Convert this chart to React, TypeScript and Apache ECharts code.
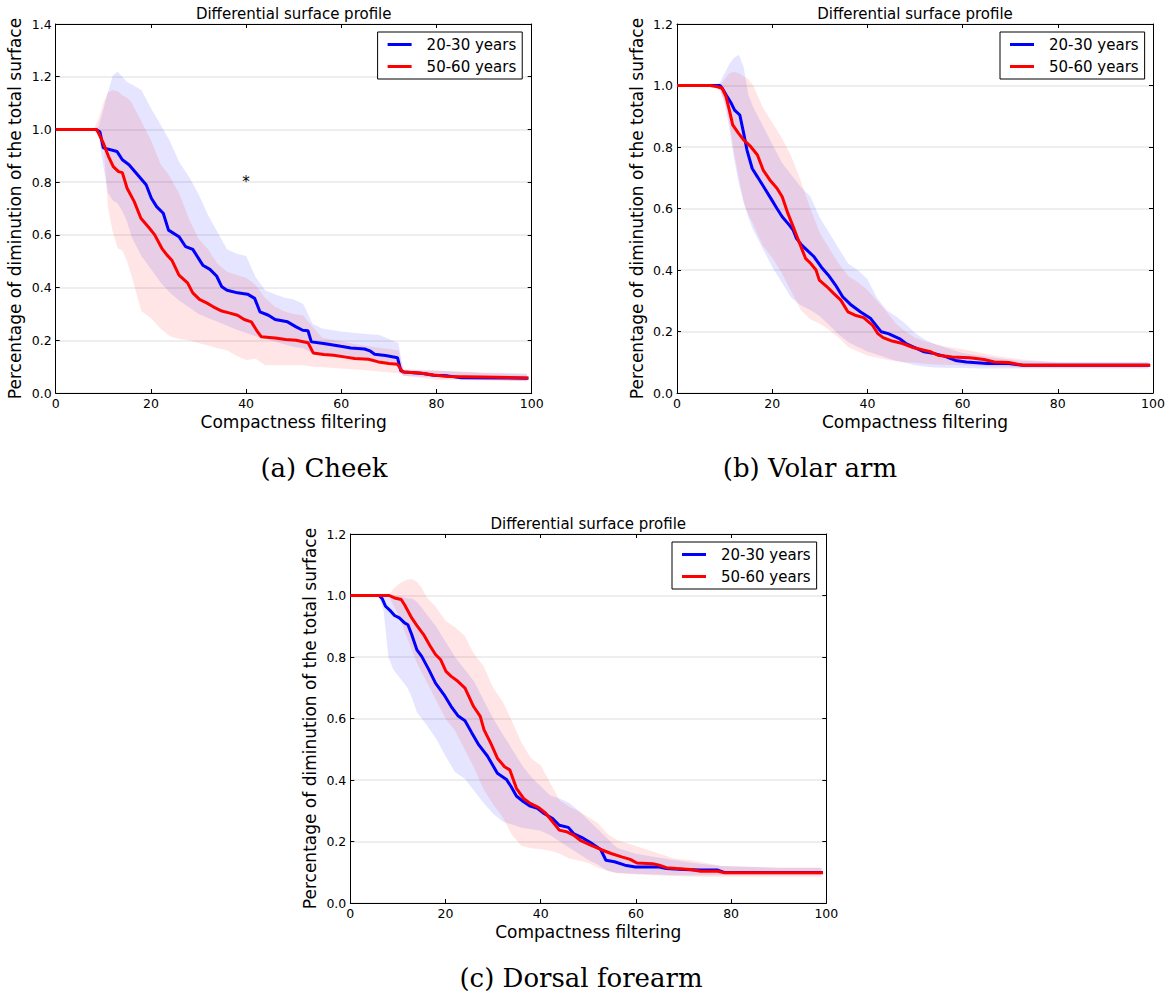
import React, { useEffect, useRef } from 'react';
import * as echarts from 'echarts';

// ---------- labels ----------
const ageGroups = ['20-30 years', '50-60 years'];
const panelTitle = 'Differential surface profile';
const xAxisTitle = 'Compactness filtering';
const yAxisTitle = 'Percentage of diminution of the total surface';
const captions = ['(a) Cheek', '(b) Volar arm', '(c) Dorsal forearm'];
const yMaxes = [1.4, 1.2, 1.2];
const starPoint = [40, 0.8];

// ---------- (a) Cheek ----------
const cheekYoungX = [0, 8.5, 9.3, 10, 12.9, 14, 15.4, 17.2, 19, 20.1, 21.2, 22.6, 23.7, 25.9, 27.3, 28.8, 30.9, 32.4, 33.8, 34.9, 36, 38.2, 40.3, 41.8, 42.9, 44.7, 46.1, 48.7, 50.5, 51.9, 53, 53.7, 56.3, 59.9, 62, 64.9, 66, 67, 69.3, 71.8, 72.5, 73.2, 77.2, 79.4, 82.3, 85.2, 99.3];
const cheekYoungY = [1, 1, 0.99, 0.93, 0.916, 0.885, 0.866, 0.828, 0.79, 0.739, 0.707, 0.682, 0.618, 0.593, 0.555, 0.545, 0.485, 0.469, 0.444, 0.403, 0.39, 0.38, 0.375, 0.359, 0.308, 0.295, 0.279, 0.27, 0.251, 0.238, 0.236, 0.194, 0.188, 0.177, 0.171, 0.167, 0.16, 0.147, 0.142, 0.134, 0.084, 0.08, 0.074, 0.067, 0.065, 0.058, 0.056];
const cheekOldX = [0, 8.5, 8.9, 10, 11.1, 12.1, 13.2, 14, 15, 16.5, 17.9, 19.7, 20.8, 22.3, 23.4, 24.4, 25.9, 27.7, 28.8, 30.2, 31.7, 33.1, 34.9, 36.4, 38.2, 39.6, 41.1, 42.2, 43.2, 46.1, 48.3, 50.5, 53, 54.1, 56.3, 58.4, 60.6, 62.8, 65.7, 67.8, 70, 71.8, 72.9, 76.5, 79.4, 82.3, 89.5, 99.3];
const cheekOldY = [1, 1, 0.99, 0.948, 0.897, 0.859, 0.84, 0.836, 0.777, 0.726, 0.663, 0.625, 0.6, 0.549, 0.523, 0.504, 0.447, 0.418, 0.38, 0.355, 0.342, 0.327, 0.311, 0.304, 0.295, 0.279, 0.27, 0.238, 0.213, 0.209, 0.203, 0.2, 0.191, 0.152, 0.146, 0.143, 0.137, 0.131, 0.128, 0.118, 0.112, 0.109, 0.08, 0.076, 0.068, 0.063, 0.061, 0.057];
const cheekBandX = [0, 8, 9, 10, 11, 12, 13, 14, 15, 16, 18, 20, 22, 24, 26, 28, 30, 32, 34, 36, 38, 40, 42, 44, 46, 48, 50, 52, 54, 56, 60, 64, 68, 72, 73, 80, 90, 99];
const cheekYoungUpper = [1, 1, 1.01, 1.075, 1.145, 1.205, 1.22, 1.2, 1.18, 1.17, 1.15, 1.08, 1.02, 0.955, 0.875, 0.82, 0.755, 0.675, 0.61, 0.545, 0.528, 0.52, 0.44, 0.39, 0.375, 0.362, 0.355, 0.338, 0.262, 0.245, 0.233, 0.226, 0.22, 0.19, 0.086, 0.084, 0.078, 0.074];
const cheekYoungLower = [1, 1, 0.98, 0.86, 0.76, 0.73, 0.72, 0.69, 0.65, 0.59, 0.52, 0.47, 0.42, 0.38, 0.35, 0.325, 0.3, 0.285, 0.27, 0.255, 0.24, 0.228, 0.215, 0.205, 0.195, 0.185, 0.175, 0.17, 0.15, 0.145, 0.14, 0.13, 0.12, 0.11, 0.065, 0.06, 0.05, 0.045];
const cheekOldUpper = [1, 1, 1.04, 1.1, 1.14, 1.15, 1.145, 1.13, 1.12, 1.1, 1.03, 0.96, 0.87, 0.82, 0.755, 0.66, 0.585, 0.545, 0.49, 0.46, 0.448, 0.437, 0.41, 0.36, 0.328, 0.31, 0.3, 0.294, 0.25, 0.21, 0.195, 0.182, 0.172, 0.162, 0.09, 0.085, 0.075, 0.07];
const cheekOldLower = [1, 1, 0.99, 0.96, 0.7, 0.61, 0.55, 0.54, 0.5, 0.44, 0.31, 0.285, 0.245, 0.215, 0.205, 0.2, 0.19, 0.18, 0.17, 0.162, 0.14, 0.125, 0.13, 0.105, 0.105, 0.105, 0.105, 0.105, 0.1, 0.098, 0.093, 0.088, 0.082, 0.075, 0.065, 0.05, 0.047, 0.045];

// ---------- (b) Volar arm ----------
const volarYoungX = [0, 9, 9.5, 10.3, 11.4, 12.1, 13.2, 14, 14.7, 15.8, 16.9, 18.4, 19.9, 21, 22.1, 23.6, 24.4, 25.1, 26.2, 27.7, 28.8, 30.3, 31.8, 33.3, 34.8, 36.6, 38.5, 40.7, 42.9, 44.4, 46.7, 48.1, 50.4, 51.9, 54.1, 56.3, 58.5, 60.8, 65.2, 69.7, 72.7, 99.4];
const volarYoungY = [1, 1, 0.991, 0.97, 0.942, 0.92, 0.904, 0.845, 0.79, 0.73, 0.703, 0.666, 0.628, 0.6, 0.573, 0.546, 0.53, 0.503, 0.481, 0.459, 0.443, 0.41, 0.383, 0.351, 0.313, 0.286, 0.264, 0.242, 0.199, 0.193, 0.177, 0.161, 0.144, 0.134, 0.128, 0.119, 0.106, 0.101, 0.096, 0.096, 0.09, 0.09];
const volarOldX = [0, 7, 8.5, 9.5, 10.3, 11, 11.7, 12.9, 14, 15.5, 16.9, 18.1, 19.5, 21, 22.1, 23.3, 24.4, 25.5, 27, 28.1, 29.2, 29.9, 31.4, 32.9, 34.4, 35.9, 37.4, 39.2, 41.1, 42.2, 43.3, 45.2, 47.4, 49.6, 51.9, 53.3, 54.8, 57.8, 61.5, 64.5, 66.7, 69.7, 72.7, 99.4];
const volarOldY = [1, 1, 0.996, 0.991, 0.964, 0.92, 0.872, 0.845, 0.823, 0.801, 0.774, 0.725, 0.693, 0.666, 0.638, 0.584, 0.541, 0.497, 0.438, 0.421, 0.4, 0.367, 0.347, 0.324, 0.302, 0.264, 0.253, 0.245, 0.22, 0.193, 0.18, 0.169, 0.161, 0.148, 0.139, 0.134, 0.123, 0.117, 0.115, 0.109, 0.101, 0.099, 0.09, 0.09];
const volarBandX = [0, 8, 9, 10, 11, 12, 13, 14, 15, 16, 18, 20, 22, 24, 26, 28, 30, 32, 34, 36, 38, 40, 42, 44, 46, 48, 50, 52, 54, 56, 60, 64, 68, 72, 80, 90, 99];
const volarYoungUpper = [1, 1, 1.01, 1.04, 1.07, 1.09, 1.1, 1.06, 0.97, 0.93, 0.87, 0.81, 0.75, 0.71, 0.67, 0.64, 0.57, 0.52, 0.47, 0.42, 0.4, 0.37, 0.31, 0.27, 0.25, 0.225, 0.195, 0.175, 0.16, 0.15, 0.13, 0.12, 0.112, 0.105, 0.1, 0.1, 0.1];
const volarYoungLower = [1, 1, 0.99, 0.94, 0.86, 0.76, 0.68, 0.62, 0.57, 0.53, 0.47, 0.41, 0.36, 0.31, 0.285, 0.27, 0.25, 0.22, 0.19, 0.165, 0.15, 0.135, 0.125, 0.115, 0.105, 0.098, 0.09, 0.086, 0.083, 0.082, 0.081, 0.08, 0.08, 0.08, 0.08, 0.08, 0.08];
const volarOldUpper = [1, 1, 1.0, 1.02, 1.04, 1.045, 1.04, 1.03, 1.02, 1.0, 0.93, 0.88, 0.83, 0.77, 0.69, 0.6, 0.52, 0.47, 0.42, 0.38, 0.36, 0.335, 0.3, 0.265, 0.225, 0.2, 0.18, 0.168, 0.16, 0.152, 0.142, 0.13, 0.118, 0.11, 0.1, 0.1, 0.1];
const volarOldLower = [1, 1, 0.98, 0.95, 0.88, 0.78, 0.7, 0.62, 0.58, 0.55, 0.48, 0.44, 0.39, 0.33, 0.27, 0.24, 0.225, 0.205, 0.18, 0.15, 0.135, 0.122, 0.115, 0.108, 0.103, 0.1, 0.098, 0.095, 0.093, 0.092, 0.09, 0.088, 0.085, 0.083, 0.083, 0.083, 0.083];

// ---------- (c) Dorsal forearm ----------
const dorsalYoungX = [0, 6, 6.7, 7.4, 8.5, 9.3, 10.3, 11.4, 12.1, 12.9, 14, 15, 16.5, 17.9, 19.7, 21.2, 22.6, 24.1, 25.5, 27, 28.8, 29.9, 30.9, 32.8, 33.8, 34.9, 36.4, 37.8, 39.3, 40.7, 42.5, 43.9, 45.8, 46.9, 49, 50.8, 52.6, 53.7, 55.5, 57.7, 59.9, 64.9, 66.4, 70, 73.6, 77.2, 78.7, 99.3];
const dorsalYoungY = [1, 1, 0.99, 0.965, 0.949, 0.935, 0.927, 0.911, 0.905, 0.873, 0.823, 0.802, 0.759, 0.715, 0.677, 0.639, 0.609, 0.593, 0.554, 0.514, 0.478, 0.449, 0.422, 0.402, 0.378, 0.348, 0.329, 0.315, 0.308, 0.291, 0.275, 0.253, 0.246, 0.226, 0.21, 0.193, 0.174, 0.139, 0.134, 0.123, 0.117, 0.117, 0.112, 0.109, 0.107, 0.107, 0.099, 0.099];
const dorsalOldX = [0, 8.2, 9.3, 10.7, 11.4, 12.9, 14, 15.4, 16.8, 17.9, 19, 20.1, 21.2, 22.6, 24.1, 25.9, 27.3, 28.1, 29.5, 30.9, 32.4, 33.5, 34.9, 36.4, 37.8, 39.6, 41.1, 42.5, 43.9, 45.4, 46.9, 48.3, 50.5, 52.6, 54.8, 57, 58.8, 60.2, 63.5, 64.9, 66.4, 68.5, 71.4, 73.6, 77.2, 78.7, 99.3];
const dorsalOldY = [1, 1, 0.992, 0.987, 0.97, 0.927, 0.902, 0.873, 0.835, 0.808, 0.791, 0.753, 0.737, 0.721, 0.699, 0.639, 0.607, 0.563, 0.52, 0.471, 0.443, 0.433, 0.373, 0.34, 0.324, 0.31, 0.291, 0.264, 0.237, 0.232, 0.221, 0.204, 0.188, 0.174, 0.161, 0.15, 0.142, 0.13, 0.128, 0.123, 0.115, 0.112, 0.109, 0.103, 0.103, 0.098, 0.098];
const dorsalBandX = [0, 6, 7, 8, 9, 10, 11, 12, 13, 14, 15, 16, 18, 20, 22, 24, 26, 28, 30, 32, 34, 36, 38, 40, 42, 44, 46, 48, 50, 52, 54, 56, 60, 64, 68, 72, 78, 90, 99];
const dorsalYoungUpper = [1, 1, 1, 1, 1, 1, 0.995, 0.99, 0.99, 0.98, 0.96, 0.94, 0.9, 0.85, 0.8, 0.76, 0.72, 0.66, 0.6, 0.55, 0.5, 0.45, 0.41, 0.38, 0.35, 0.34, 0.325, 0.3, 0.27, 0.24, 0.21, 0.18, 0.16, 0.15, 0.14, 0.13, 0.12, 0.115, 0.115];
const dorsalYoungLower = [1, 1, 0.95, 0.8, 0.76, 0.74, 0.72, 0.7, 0.665, 0.62, 0.6, 0.58, 0.535, 0.478, 0.425, 0.405, 0.365, 0.325, 0.29, 0.265, 0.255, 0.245, 0.24, 0.235, 0.22, 0.2, 0.18, 0.16, 0.14, 0.125, 0.105, 0.097, 0.095, 0.093, 0.09, 0.09, 0.09, 0.09, 0.09];
const dorsalOldUpper = [1, 1, 1, 1, 1.02, 1.035, 1.045, 1.052, 1.053, 1.045, 1.025, 0.995, 0.963, 0.918, 0.897, 0.87, 0.81, 0.77, 0.7, 0.655, 0.59, 0.52, 0.47, 0.448, 0.39, 0.333, 0.313, 0.298, 0.28, 0.26, 0.225, 0.205, 0.185, 0.165, 0.145, 0.138, 0.12, 0.115, 0.115];
const dorsalOldLower = [1, 1, 1, 1, 0.97, 0.94, 0.9, 0.86, 0.82, 0.78, 0.75, 0.72, 0.66, 0.6, 0.56, 0.5, 0.44, 0.37, 0.32, 0.28, 0.22, 0.185, 0.178, 0.175, 0.17, 0.16, 0.145, 0.138, 0.13, 0.115, 0.105, 0.098, 0.093, 0.09, 0.088, 0.085, 0.085, 0.085, 0.085];

const panels = [
  { youngX: cheekYoungX, youngY: cheekYoungY, oldX: cheekOldX, oldY: cheekOldY, bandX: cheekBandX, yu: cheekYoungUpper, yl: cheekYoungLower, ou: cheekOldUpper, ol: cheekOldLower },
  { youngX: volarYoungX, youngY: volarYoungY, oldX: volarOldX, oldY: volarOldY, bandX: volarBandX, yu: volarYoungUpper, yl: volarYoungLower, ou: volarOldUpper, ol: volarOldLower },
  { youngX: dorsalYoungX, youngY: dorsalYoungY, oldX: dorsalOldX, oldY: dorsalOldY, bandX: dorsalBandX, yu: dorsalYoungUpper, yl: dorsalYoungLower, ou: dorsalOldUpper, ol: dorsalOldLower },
];

// ---------- layout ----------
const GRIDS = [
  { left: 55.7, top: 24, width: 476, height: 369 },
  { left: 677, top: 24, width: 476, height: 369 },
  { left: 350.3, top: 534, width: 476, height: 369 },
];
const CAPTION_POS = [
  { x: 324, y: 468 },
  { x: 810, y: 468 },
  { x: 581, y: 978 },
];
const LEGEND_POS = [
  { left: 377.6, top: 32 },
  { left: 1000, top: 32 },
  { left: 672, top: 542 },
];

const BLUE = '#0000ff';
const RED = '#ff0000';
const FONT = 'DejaVu Sans';

const zip = (xs: number[], ys: number[]) => xs.map((x, i) => [x, ys[i]]);
const bandRows = (xs: number[], lo: number[], up: number[]) => xs.map((x, i) => [x, lo[i], up[i]]);

function bandSeries(xi: number, yi: number, rows: number[][], fill: string) {
  return {
    type: 'custom',
    xAxisIndex: xi,
    yAxisIndex: yi,
    silent: true,
    z: 1,
    clip: true,
    data: rows,
    encode: { x: 0, y: [1, 2] },
    renderItem: (params: any, api: any) => {
      if (params.dataIndex !== 0) return null;
      const pts: number[][] = [];
      for (let i = 0; i < rows.length; i++) pts.push(api.coord([rows[i][0], rows[i][2]]));
      for (let i = rows.length - 1; i >= 0; i--) pts.push(api.coord([rows[i][0], rows[i][1]]));
      return { type: 'polygon', shape: { points: pts }, style: { fill, stroke: 'none' } };
    },
  };
}

function buildOption() {
  const xAxes: any[] = [];
  const yAxes: any[] = [];
  const series: any[] = [];
  const legends: any[] = [];
  const graphics: any[] = [];

  GRIDS.forEach((g, gi) => {
    const tickStyle = { show: true, inside: true, length: 4, lineStyle: { color: '#000', width: 1 } };
    const lineStyle = { show: true, onZero: false, lineStyle: { color: '#000', width: 1 } };
    xAxes.push({
      type: 'value', gridIndex: gi, min: 0, max: 100, interval: 20, position: 'bottom',
      axisLine: lineStyle, axisTick: tickStyle, splitLine: { show: false },
      axisLabel: { color: '#000', fontSize: 12.5, fontFamily: FONT, margin: 4 },
    });
    xAxes.push({
      type: 'value', gridIndex: gi, min: 0, max: 100, interval: 20, position: 'top',
      axisLine: lineStyle, axisTick: tickStyle, splitLine: { show: false }, axisLabel: { show: false },
    });
    yAxes.push({
      type: 'value', gridIndex: gi, min: 0, max: yMaxes[gi], interval: 0.2, position: 'left',
      axisLine: lineStyle, axisTick: tickStyle,
      splitLine: { show: true, lineStyle: { color: '#e8e8e8', width: 1.5 } },
      axisLabel: { color: '#000', fontSize: 12.5, fontFamily: FONT, margin: 4, formatter: (v: number) => v.toFixed(1) },
    });
    yAxes.push({
      type: 'value', gridIndex: gi, min: 0, max: yMaxes[gi], interval: 0.2, position: 'right',
      axisLine: lineStyle, axisTick: tickStyle, splitLine: { show: false }, axisLabel: { show: false },
    });

    const p = panels[gi];
    const xi = gi * 2;
    const yi = gi * 2;
    const common = { type: 'line', xAxisIndex: xi, yAxisIndex: yi, symbol: 'none', silent: true, animation: false };
    // shaded spreads
    series.push(bandSeries(xi, yi, bandRows(p.bandX, p.yl, p.yu), 'rgba(0,0,255,0.1)'));
    series.push(bandSeries(xi, yi, bandRows(p.bandX, p.ol, p.ou), 'rgba(255,0,0,0.1)'));
    // mean curves
    series.push({ ...common, name: ageGroups[0], data: zip(p.youngX, p.youngY), color: BLUE, lineStyle: { color: BLUE, width: 3 }, z: 3 });
    series.push({ ...common, name: ageGroups[1], data: zip(p.oldX, p.oldY), color: RED, lineStyle: { color: RED, width: 3 }, z: 4 });

    if (gi === 0) {
      series.push({
        type: 'scatter', xAxisIndex: xi, yAxisIndex: yi, data: [starPoint], symbolSize: 1,
        itemStyle: { color: 'rgba(0,0,0,0)' }, silent: true, z: 5,
        label: { show: true, position: 'inside', formatter: '*', color: '#000', opacity: 1, fontSize: 15, fontFamily: FONT },
      });
    }

    legends.push({
      data: ageGroups, orient: 'vertical', left: LEGEND_POS[gi].left, top: LEGEND_POS[gi].top,
      icon: 'rect', itemWidth: 24, itemHeight: 3, itemGap: 7,
      borderColor: '#000', borderWidth: 1, borderRadius: 0, backgroundColor: '#fff',
      padding: [5, 6, 5, 10], selectedMode: false,
      textStyle: { fontSize: 15, fontFamily: FONT, color: '#000', padding: [0, 0, 0, 10] },
    });

    const cx = g.left + g.width / 2;
    const cy = g.top + g.height / 2;
    graphics.push({
      type: 'text', x: cx, y: g.top - 10, silent: true,
      style: { text: panelTitle, fill: '#000', font: `15px "${FONT}"`, textAlign: 'center', textVerticalAlign: 'middle' },
    });
    graphics.push({
      type: 'text', x: cx, y: g.top + g.height + 29, silent: true,
      style: { text: xAxisTitle, fill: '#000', font: `17px "${FONT}"`, textAlign: 'center', textVerticalAlign: 'middle' },
    });
    graphics.push({
      type: 'text', x: g.left - 40.5, y: cy, rotation: Math.PI / 2, silent: true,
      style: { text: yAxisTitle, fill: '#000', font: `17px "${FONT}"`, textAlign: 'center', textVerticalAlign: 'middle' },
    });
    graphics.push({
      type: 'text', x: CAPTION_POS[gi].x, y: CAPTION_POS[gi].y, silent: true,
      style: { text: captions[gi], fill: '#000', font: '26px "DejaVu Serif"', textAlign: 'center', textVerticalAlign: 'middle' },
    });
  });

  return {
    animation: false,
    backgroundColor: '#fff',
    grid: GRIDS.map((g) => ({ ...g, containLabel: false, show: false })),
    xAxis: xAxes,
    yAxis: yAxes,
    legend: legends,
    series,
    graphic: graphics,
  };
}

export default function App() {
  const ref = useRef<HTMLDivElement>(null);
  useEffect(() => {
    if (!ref.current) return;
    const chart = echarts.init(ref.current, undefined, { renderer: 'svg' });
    chart.setOption(buildOption() as any);
    return () => chart.dispose();
  }, []);
  return (
    <div
      ref={ref}
      style={{ position: 'fixed', left: 0, top: 0, width: 1175, height: 998, background: '#fff' }}
    />
  );
}
